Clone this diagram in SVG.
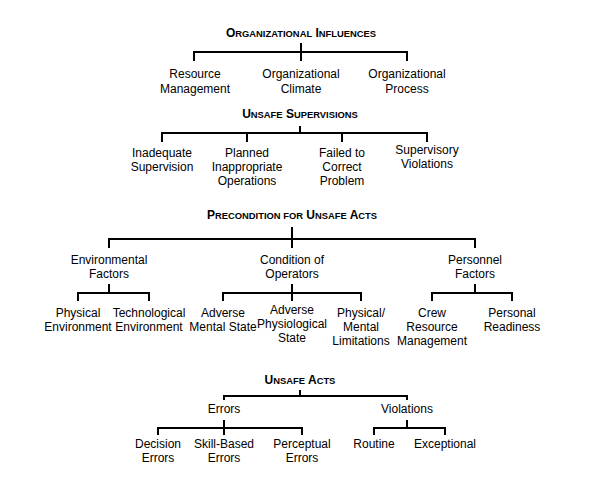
<svg xmlns="http://www.w3.org/2000/svg" width="615" height="494" viewBox="0 0 615 494">
<style>
.t{font-family:"Liberation Sans",Arial,sans-serif;font-size:12px;fill:#000;text-anchor:middle}
.h{font-family:"Liberation Sans",Arial,sans-serif;font-size:12px;font-weight:bold;fill:#000;text-anchor:middle}
.s{font-size:9.4px}
.c{fill:none;stroke:#000;stroke-width:2;stroke-linecap:butt;stroke-linejoin:miter}
</style>
<rect width="615" height="494" fill="#fff"/>
<g id="connectors">
<path class="c" d="M301 43V61M194 61V52H407V61"/>
<path class="c" d="M300 126V133M162 142V133H427V142M247 133V142M342 133V142"/>
<path class="c" d="M292 227V248M109 248V239H475V248"/>
<path class="c" d="M109 284V293M78 301V293H149V301"/>
<path class="c" d="M292 284V301M223 301V293H361V301"/>
<path class="c" d="M475 284V293M432 301V293H512V301"/>
<path class="c" d="M300 390V396M224 400V396H407V400"/>
<path class="c" d="M224 420V435M158 435V428H302V435"/>
<path class="c" d="M407 420V428M374 435V428H445V435"/>
</g>
<g id="org-influences"><text class="h" x="301" y="37">O<tspan class="s">RGANIZATIONAL</tspan> I<tspan class="s">NFLUENCES</tspan></text></g>
<g id="resource-management"><text class="t" x="195" y="78">Resource<tspan x="195" dy="14.5">Management</tspan></text></g>
<g id="org-climate"><text class="t" x="301" y="78">Organizational<tspan x="301" dy="14.5">Climate</tspan></text></g>
<g id="org-process"><text class="t" x="407" y="78">Organizational<tspan x="407" dy="14.5">Process</tspan></text></g>

<g id="unsafe-supervisions"><text class="h" x="300" y="118">U<tspan class="s">NSAFE</tspan> S<tspan class="s">UPERVISIONS</tspan></text></g>
<g id="inadequate-supervision"><text class="t" x="162" y="156.5">Inadequate<tspan x="162" dy="14">Supervision</tspan></text></g>
<g id="planned-inappropriate"><text class="t" x="247" y="156.5">Planned<tspan x="247" dy="14">Inappropriate</tspan><tspan x="247" dy="14">Operations</tspan></text></g>
<g id="failed-to-correct"><text class="t" x="342" y="156.5">Failed to<tspan x="342" dy="14">Correct</tspan><tspan x="342" dy="14">Problem</tspan></text></g>
<g id="supervisory-violations"><text class="t" x="427" y="154">Supervisory<tspan x="427" dy="14">Violations</tspan></text></g>

<g id="preconditions"><text class="h" x="292" y="219">P<tspan class="s">RECONDITION FOR</tspan> U<tspan class="s">NSAFE</tspan> A<tspan class="s">CTS</tspan></text></g>
<g id="environmental-factors"><text class="t" x="109" y="264">Environmental<tspan x="109" dy="13.5">Factors</tspan></text></g>
<g id="condition-of-operators"><text class="t" x="292" y="264">Condition of<tspan x="292" dy="13.5">Operators</tspan></text></g>
<g id="personnel-factors"><text class="t" x="475" y="264">Personnel<tspan x="475" dy="13.5">Factors</tspan></text></g>
<g id="physical-environment"><text class="t" x="78" y="316.5">Physical<tspan x="78" dy="14">Environment</tspan></text></g>
<g id="technological-environment"><text class="t" x="149" y="316.5">Technological<tspan x="149" dy="14">Environment</tspan></text></g>
<g id="adverse-mental-state"><text class="t" x="223" y="316.5">Adverse<tspan x="223" dy="14">Mental State</tspan></text></g>
<g id="adverse-physiological-state"><text class="t" x="292" y="314">Adverse<tspan x="292" dy="13.8">Physiological</tspan><tspan x="292" dy="13.8">State</tspan></text></g>
<g id="physical-mental-limitations"><text class="t" x="361" y="316.5">Physical/<tspan x="361" dy="14">Mental</tspan><tspan x="361" dy="14">Limitations</tspan></text></g>
<g id="crew-resource-management"><text class="t" x="432" y="316.5">Crew<tspan x="432" dy="14">Resource</tspan><tspan x="432" dy="14">Management</tspan></text></g>
<g id="personal-readiness"><text class="t" x="512" y="316.5">Personal<tspan x="512" dy="14">Readiness</tspan></text></g>

<g id="unsafe-acts"><text class="h" x="300" y="384">U<tspan class="s">NSAFE</tspan> A<tspan class="s">CTS</tspan></text></g>
<g id="errors"><text class="t" x="224" y="413">Errors</text></g>
<g id="violations"><text class="t" x="407" y="413">Violations</text></g>
<g id="decision-errors"><text class="t" x="158" y="448">Decision<tspan x="158" dy="14">Errors</tspan></text></g>
<g id="skill-based-errors"><text class="t" x="224" y="448">Skill-Based<tspan x="224" dy="14">Errors</tspan></text></g>
<g id="perceptual-errors"><text class="t" x="302" y="448">Perceptual<tspan x="302" dy="14">Errors</tspan></text></g>
<g id="routine"><text class="t" x="374" y="448">Routine</text></g>
<g id="exceptional"><text class="t" x="445" y="448">Exceptional</text></g>
</svg>
